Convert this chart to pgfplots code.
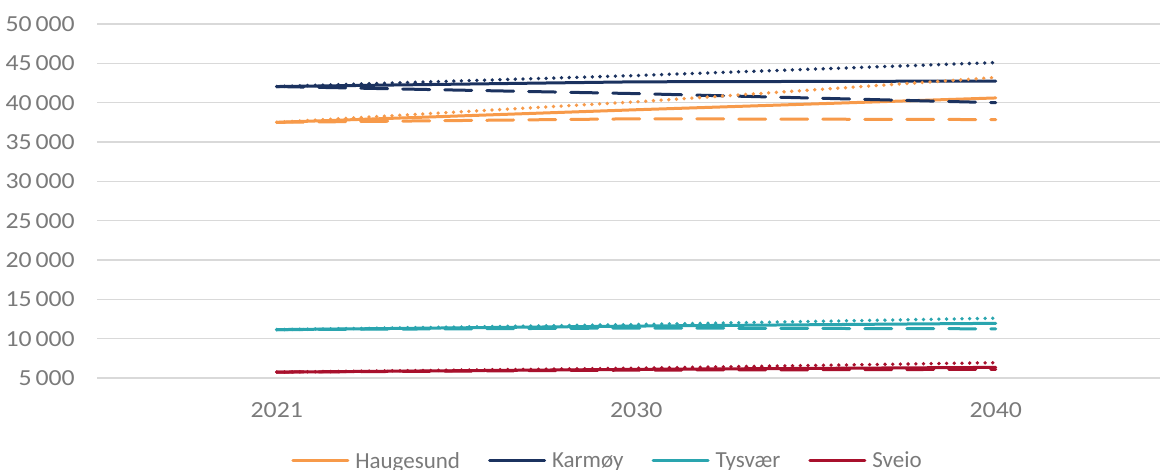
\documentclass[border=0pt]{standalone}
\usepackage{fontspec}
\setmainfont{Carlito}
\newfontfamily\tickfont[FakeStretch=1.12]{Carlito}
\usepackage{pgfplots}
\pgfplotsset{compat=1.18}
\definecolor{hau}{HTML}{F79A4A}
\definecolor{kar}{HTML}{1B325F}
\definecolor{tys}{HTML}{2AA5AF}
\definecolor{sve}{HTML}{A8102C}
\definecolor{txt}{HTML}{7A7A7A}
\definecolor{grd}{HTML}{D9D9D9}
\begin{document}
\begin{tikzpicture}
\useasboundingbox (0,0) rectangle (1160pt,470pt);
\clip (0,0) rectangle (1160pt,470pt);
\begin{axis}[
  at={(97pt,92pt)}, anchor=south west,
  scale only axis, width=1078.5pt, height=354pt,
  xmin=-0.5, xmax=2.5, ymin=5000, ymax=50000,
  scaled y ticks=false,
  xtick={0,1,2}, xticklabels={2021,2030,2040},
  ytick={5000,10000,15000,20000,25000,30000,35000,40000,45000,50000},
  yticklabels={5\,000,10\,000,15\,000,20\,000,25\,000,30\,000,35\,000,40\,000,45\,000,50\,000},
  ymajorgrids, major grid style={grd, line width=1.5pt},
  axis line style={draw=none}, major tick length=0pt,
  tick label style={font=\tickfont\fontsize{23}{27}\selectfont, text=txt},
  yticklabel style={inner sep=0pt, xshift=-22pt},
  xticklabel style={inner sep=0pt, yshift=-24pt},
  legend columns=4,
  legend image code/.code={\draw[#1] (0pt,0pt) -- (55pt,0pt);},
  legend style={at={(axis description cs:0.18,-0.234)}, anchor=west,
    draw=none, fill=none, inner sep=0pt,
    font=\fontsize{23}{27}\selectfont, text=txt,
    column sep=6pt,
    /tikz/every even column/.append style={column sep=28pt},
    nodes={inner sep=0pt}},
  solidl/.style={line width=3pt, line cap=round},
  dotl/.style={line width=3.8pt, line cap=round, dash pattern=on 0pt off 7.7pt},
  dashl/.style={line width=3pt, line cap=round, dash pattern=on 27pt off 15pt},
]
% Haugesund
\addplot[hau, solidl] coordinates {(0,37500) (1,39100) (2,40600)};
\addlegendentry{Haugesund}
% Karmøy
\addplot[kar, solidl] coordinates {(0,42050) (1,42650) (2,42750)};
\addlegendentry{Karmøy}
% Tysvær
\addplot[tys, solidl] coordinates {(0,11150) (1,11600) (2,11950)};
\addlegendentry{Tysvær}
% Sveio
\addplot[sve, solidl] coordinates {(0,5750) (1,6100) (2,6350)};
\addlegendentry{Sveio}
% dashed
\addplot[hau, dashl, forget plot] coordinates {(0,37500) (1,37950) (2,37850)};
\addplot[kar, dashl, forget plot] coordinates {(0,42050) (1,41150) (2,40000)};
\addplot[tys, dashl, forget plot] coordinates {(0,11150) (1,11350) (2,11250)};
\addplot[sve, dashl, forget plot] coordinates {(0,5750) (1,6000) (2,6100)};
% dotted
\addplot[hau, dotl, forget plot] coordinates {(0,37500) (1,40100) (2,43200)};
\addplot[kar, dotl, forget plot] coordinates {(0,42050) (1,43450) (2,45100)};
\addplot[tys, dotl, forget plot] coordinates {(0,11150) (1,11800) (2,12600)};
\addplot[sve, dotl, forget plot] coordinates {(0,5750) (1,6250) (2,6950)};
\end{axis}
\end{tikzpicture}
\end{document}
